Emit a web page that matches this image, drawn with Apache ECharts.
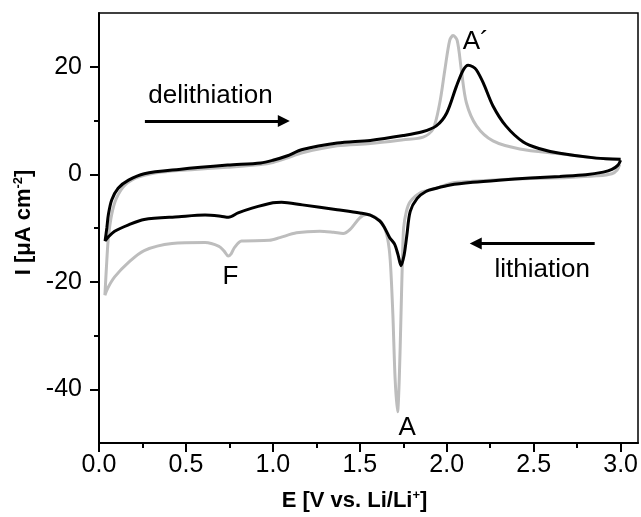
<!DOCTYPE html>
<html>
<head>
<meta charset="utf-8">
<script src="https://cdn.jsdelivr.net/npm/echarts@6/dist/echarts.min.js"></script>
<style>
  html, body { margin: 0; padding: 0; background: #fff; }
  #chart { width: 641px; height: 517px; }
</style>
</head>
<body>
<div id="chart"></div>
<script>
// Cyclic voltammogram: cycle 1 (grey) and cycle 2 (black)
// Each cycle: cathodic sweep 3.0 V -> 0.03 V, then anodic sweep back to 3.0 V.

// Cycle 1 – cathodic (lithiation) branch
const cycle1CathodicE = [2.995, 2.98, 2.95, 2.86, 2.70, 2.48, 2.30, 2.15, 2.02, 1.94, 1.845, 1.79, 1.768, 1.752, 1.745, 1.737, 1.727, 1.717, 1.703, 1.69, 1.675, 1.66, 1.634, 1.59, 1.538, 1.50, 1.443, 1.404, 1.35, 1.27, 1.136, 1.04, 0.98, 0.82, 0.78, 0.76, 0.743, 0.72, 0.69, 0.61, 0.42, 0.26, 0.17, 0.09, 0.05, 0.034];
const cycle1CathodicI = [1.8, 0.8, 0.1, -0.3, -0.6, -0.8, -1.0, -1.3, -1.7, -2.6, -3.5, -5.1, -6.9, -10.0, -16.0, -26.0, -38.0, -44.2, -38.0, -26.0, -16.0, -12.0, -9.4, -8.0, -7.5, -8.1, -10.3, -11.0, -10.8, -10.6, -10.9, -11.8, -12.3, -12.4, -13.6, -14.8, -15.2, -14.3, -13.4, -12.7, -12.9, -14.2, -16.4, -19.1, -21.2, -22.5];
// Cycle 1 – anodic (delithiation) branch
const cycle1AnodicE = [0.045, 0.054, 0.073, 0.10, 0.15, 0.23, 0.36, 0.55, 0.74, 0.93, 1.0, 1.08, 1.17, 1.37, 1.56, 1.75, 1.864, 1.921, 1.96, 1.989, 2.017, 2.036, 2.06, 2.084, 2.113, 2.171, 2.266, 2.42, 2.65, 2.86, 3.0];
const cycle1AnodicI = [-16.0, -11.8, -7.5, -4.5, -2.0, -0.5, 0.4, 0.9, 1.3, 1.8, 2.2, 3.0, 4.0, 5.3, 5.7, 6.4, 6.9, 8.4, 13.3, 19.4, 24.9, 25.8, 24.9, 19.4, 13.3, 9.0, 6.2, 4.7, 3.8, 3.0, 2.7];

// Cycle 2 – cathodic (lithiation) branch
const cycle2CathodicE = [3.0, 2.985, 2.95, 2.90, 2.80, 2.65, 2.48, 2.30, 2.15, 2.02, 1.94, 1.88, 1.83, 1.79, 1.77, 1.755, 1.737, 1.72, 1.70, 1.672, 1.64, 1.615, 1.56, 1.50, 1.37, 1.17, 1.05, 1.0, 0.88, 0.80, 0.745, 0.70, 0.61, 0.46, 0.26, 0.17, 0.09, 0.05, 0.035];
const cycle2CathodicI = [2.6, 1.7, 0.9, 0.4, -0.1, -0.4, -0.7, -1.1, -1.5, -2.0, -2.6, -3.2, -4.5, -6.9, -11.5, -15.0, -17.0, -15.0, -13.0, -11.8, -9.8, -8.7, -7.6, -7.2, -6.6, -5.7, -5.2, -5.3, -6.3, -7.2, -8.0, -7.8, -7.6, -7.9, -8.4, -9.4, -10.6, -11.8, -12.4];
// Cycle 2 – anodic (delithiation) branch
const cycle2AnodicE = [0.045, 0.054, 0.073, 0.11, 0.17, 0.26, 0.46, 0.74, 0.93, 1.0, 1.08, 1.17, 1.37, 1.56, 1.75, 1.86, 1.94, 2.00, 2.055, 2.095, 2.123, 2.15, 2.171, 2.21, 2.266, 2.34, 2.44, 2.53, 2.65, 2.86, 3.0];
const cycle2AnodicI = [-10.0, -7.5, -4.8, -2.6, -1.1, 0.1, 0.9, 1.7, 2.1, 2.6, 3.4, 4.6, 5.8, 6.3, 7.2, 7.9, 9.0, 11.4, 16.3, 19.4, 20.3, 20.0, 19.4, 17.0, 12.7, 9.0, 6.0, 4.8, 3.9, 3.0, 2.8];

// Axis ticks
const xMajorTicks = [0, 0.5, 1.0, 1.5, 2.0, 2.5, 3.0];
const xMinorTicks = [0.25, 0.75, 1.25, 1.75, 2.25, 2.75];
const yMajorTicks = [-40, -20, 0, 20];
const yMinorTicks = [-30, -10, 10];

// Text annotations [E, I, text]
const peakLabels = [
  [0.641, 14.6, 'delithiation'],
  [2.549, -17.8, 'lithiation'],
  [2.167, 24.7, 'A\u00B4'],
  [0.756, -19.0, 'F'],
  [1.773, -47.2, 'A']
];
// Sweep-direction arrows [E start, E end, I]
const sweepArrows = [
  [0.264, 1.063, 9.9],
  [2.851, 2.167, -12.9]
];

const FONT = 'Liberation Sans, Arial, sans-serif';

function joinBranches(e1, i1, e2, i2) {
  const pts = [];
  for (let k = 0; k < e1.length; k++) pts.push([e1[k], i1[k]]);
  for (let k = 0; k < e2.length; k++) pts.push([e2[k], i2[k]]);
  return pts;
}

const cycle1 = joinBranches(cycle1CathodicE, cycle1CathodicI, cycle1AnodicE, cycle1AnodicI);
const cycle2 = joinBranches(cycle2CathodicE, cycle2CathodicI, cycle2AnodicE, cycle2AnodicI);

const axisColor = '#000';
const tickLabelStyle = { fontSize: 25, color: '#000', fontFamily: FONT };
const titleRich = {
  b: { fontSize: 22, fontWeight: 'bold', fontFamily: FONT, color: '#000', lineHeight: 24 },
  s: { fontSize: 13, fontWeight: 'bold', fontFamily: FONT, color: '#000', verticalAlign: 'top', lineHeight: 13 }
};

const chart = echarts.init(document.getElementById('chart'), null, { renderer: 'canvas' });

chart.setOption({
  animation: false,
  backgroundColor: '#fff',
  grid: {
    left: 99, right: 3, top: 13, bottom: 69,
    show: true, borderColor: '#000', borderWidth: 1.5, backgroundColor: 'transparent'
  },
  xAxis: [
    {
      type: 'value', min: 0, max: 3.1, position: 'bottom',
      axisLine: { show: true, onZero: false, lineStyle: { color: axisColor, width: 2 } },
      axisTick: { show: true, inside: false, length: 9, customValues: xMajorTicks, lineStyle: { color: axisColor, width: 2 } },
      axisLabel: Object.assign({ customValues: xMajorTicks, margin: 10, formatter: v => v.toFixed(1) }, tickLabelStyle),
      splitLine: { show: false },
      name: '{b|E [V vs. Li/Li}{s|+}{b|]}',
      nameLocation: 'middle', nameGap: 46,
      nameTextStyle: { padding: [0, 28, 0, 0], rich: titleRich }
    },
    {
      type: 'value', min: 0, max: 3.1, position: 'bottom',
      axisLine: { show: false, onZero: false },
      axisTick: { show: true, inside: false, length: 5, customValues: xMinorTicks, lineStyle: { color: axisColor, width: 2 } },
      axisLabel: { show: false },
      splitLine: { show: false }
    }
  ],
  yAxis: [
    {
      type: 'value', min: -50, max: 30, position: 'left',
      axisLine: { show: true, onZero: false, lineStyle: { color: axisColor, width: 2 } },
      axisTick: { show: true, inside: false, length: 9, customValues: yMajorTicks, lineStyle: { color: axisColor, width: 2 } },
      axisLabel: Object.assign({ customValues: yMajorTicks, margin: 17 }, tickLabelStyle),
      splitLine: { show: false },
      name: '{b|I [\u03BCA cm}{s|-2}{b|]}',
      nameLocation: 'middle', nameGap: 60, nameRotate: 90,
      nameTextStyle: { padding: [0, 0, 0, 11], rich: titleRich }
    },
    {
      type: 'value', min: -50, max: 30, position: 'left',
      axisLine: { show: false, onZero: false },
      axisTick: { show: true, inside: false, length: 5, customValues: yMinorTicks, lineStyle: { color: axisColor, width: 2 } },
      axisLabel: { show: false },
      splitLine: { show: false }
    }
  ],
  series: [
    {
      name: 'cycle 1', type: 'line', xAxisIndex: 0, yAxisIndex: 0,
      data: cycle1, showSymbol: false, smooth: 0.3, z: 2,
      lineStyle: { color: '#bdbdbd', width: 3 },
      emphasis: { disabled: true }
    },
    {
      name: 'cycle 2', type: 'line', xAxisIndex: 0, yAxisIndex: 0,
      data: cycle2, showSymbol: false, smooth: 0.3, z: 3,
      lineStyle: { color: '#000', width: 3 },
      emphasis: { disabled: true },
      markLine: {
        silent: true, animation: false,
        symbol: ['none', 'triangle'], symbolSize: 12,
        label: { show: false },
        lineStyle: { color: '#000', width: 3, type: 'solid' },
        emphasis: { disabled: true },
        data: sweepArrows.map(a => [{ coord: [a[0], a[2]] }, { coord: [a[1], a[2]] }])
      },
      markPoint: {
        silent: true, animation: false,
        symbol: 'circle', symbolSize: 1,
        itemStyle: { color: 'transparent' },
        label: { show: true, position: 'inside', formatter: '{b}', fontSize: 26, color: '#000', fontFamily: FONT },
        emphasis: { disabled: true },
        data: peakLabels.map(p => ({ name: p[2], coord: [p[0], p[1]] }))
      }
    }
  ]
});
</script>
</body>
</html>
